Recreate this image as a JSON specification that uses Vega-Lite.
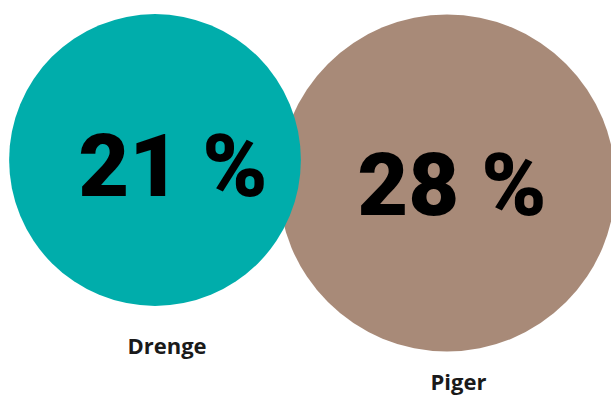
{
  "$schema": "https://vega.github.io/schema/vega-lite/v6.json",
  "width": 611,
  "height": 397,
  "padding": 0,
  "autosize": {"type": "fit", "contains": "padding"},
  "background": "white",
  "config": {"view": {"stroke": null}},
  "data": {
    "values": [
      {"gender": "Drenge", "pct": 21, "label": "21 %"},
      {"gender": "Piger", "pct": 28, "label": "28 %"}
    ]
  },
  "resolve": {"scale": {"x": "independent", "y": "independent"}},
  "layer": [
    {
      "mark": {"type": "point", "shape": "circle", "filled": true, "opacity": 1, "strokeWidth": 0},
      "encoding": {
        "x": {"field": "gender", "type": "nominal", "axis": null, "scale": {"type": "point", "padding": 0, "domain": ["Drenge", "Piger"], "range": [155, 447]}},
        "y": {"field": "pct", "type": "quantitative", "axis": null, "scale": {"domain": [21, 28], "range": [160, 183], "zero": false, "nice": false}},
        "size": {"field": "pct", "type": "quantitative", "legend": null, "scale": {"domain": [0, 28], "range": [0, 113500], "zero": true, "nice": false}},
        "color": {"field": "gender", "type": "nominal", "legend": null, "scale": {"domain": ["Drenge", "Piger"], "range": ["#00ADAB", "#A88A78"]}},
        "order": {"field": "pct", "type": "quantitative", "sort": "descending"}
      }
    },
    {
      "mark": {"type": "text", "font": "Roboto", "fontWeight": 900, "fontSize": 88, "baseline": "alphabetic", "align": "center", "color": "#000000"},
      "encoding": {
        "x": {"field": "gender", "type": "nominal", "axis": null, "scale": {"type": "point", "padding": 0, "domain": ["Drenge", "Piger"], "range": [173, 452]}},
        "y": {"field": "pct", "type": "quantitative", "axis": null, "scale": {"domain": [21, 28], "range": [196, 215], "zero": false, "nice": false}},
        "text": {"field": "label", "type": "nominal"}
      }
    },
    {
      "mark": {"type": "text", "font": "Open Sans", "fontWeight": "bold", "fontSize": 22, "baseline": "alphabetic", "align": "center", "color": "#1A1A1A"},
      "encoding": {
        "x": {"field": "gender", "type": "nominal", "axis": null, "scale": {"type": "point", "padding": 0, "domain": ["Drenge", "Piger"], "range": [167, 458.5]}},
        "y": {"field": "pct", "type": "quantitative", "axis": null, "scale": {"domain": [21, 28], "range": [354, 390], "zero": false, "nice": false}},
        "text": {"field": "gender", "type": "nominal"}
      }
    }
  ]
}
